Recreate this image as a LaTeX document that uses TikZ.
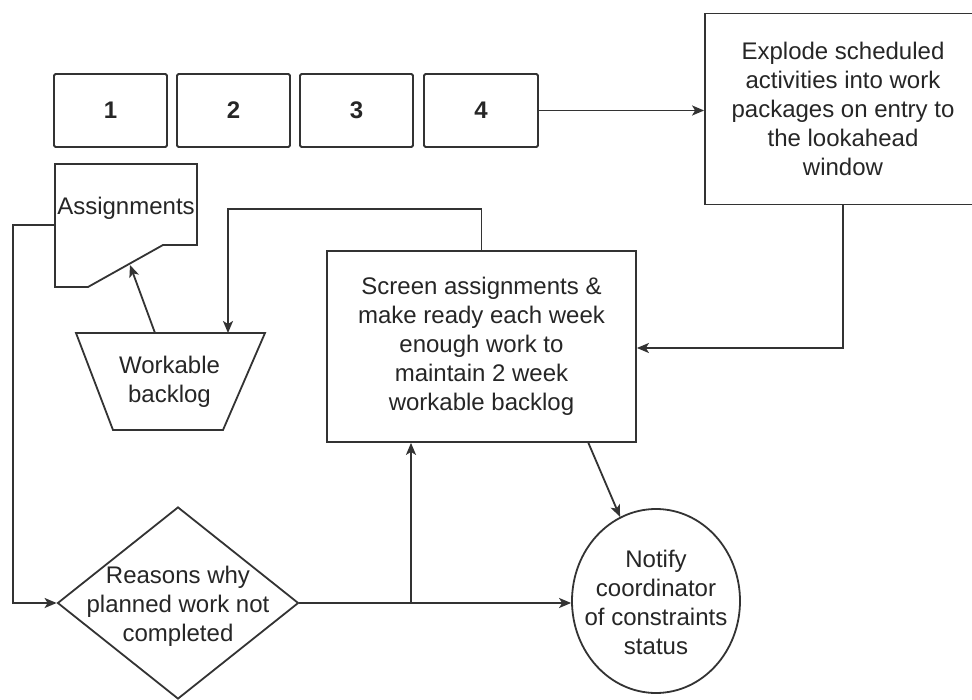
\documentclass[tikz,border=0pt]{standalone}
\usepackage{fontspec}
\setmainfont{Liberation Sans}
\usetikzlibrary{arrows.meta,calc,shapes.geometric}
\begin{document}
\begin{tikzpicture}[x=1pt,y=-1pt,
  every node/.style={font=\fontsize{24}{29}\selectfont, text=black!85, align=center, inner sep=0pt},
  ln/.style={line width=1.8pt, draw=black!80},
  arr/.style={ln, -{Stealth[length=12pt,width=10pt,inset=3pt]}},
  numbox/.style={ln, rectangle, rounded corners=1.5pt, minimum width=113pt, minimum height=73pt, font=\fontsize{24}{29}\selectfont\bfseries},
  procbox/.style={ln, rectangle}
]
\useasboundingbox (0,0) rectangle (972,700);
\fill[white] (0,0) rectangle (972,700);

% numbered boxes
\node[numbox] (b1) at (110.5,110.5) {1};
\node[numbox] (b2) at (233.5,110.5) {2};
\node[numbox] (b3) at (356.5,110.5) {3};
\node[numbox, minimum width=114pt] (b4) at (481,110.5) {4};

% explode box (extends past the right edge of the picture)
\node[procbox, minimum width=276pt, minimum height=191pt] (exp) at (843,109) {Explode scheduled\\activities into work\\packages on entry to\\the lookahead\\window};

% screen box
\node[procbox, minimum width=309pt, minimum height=191pt] (scr) at (481.5,346.5) {Screen assignments \&\\make ready each week\\enough work to\\maintain 2 week\\workable backlog};

% assignments (manual document shape)
\coordinate (a1) at (55,164);
\coordinate (a2) at (197,164);
\coordinate (a3) at (197,245);
\coordinate (a4) at (163,245);
\coordinate (a5) at (88,287);
\coordinate (a6) at (55,287);
\draw[ln, line join=miter] (a1) -- (a2) -- (a3) -- (a4) -- (a5) -- (a6) -- cycle;
\node (asg) at (126,208) {Assignments};

% workable backlog trapezoid
\coordinate (w1) at (76,333);
\coordinate (w2) at (265,333);
\coordinate (w3) at (223,430);
\coordinate (w4) at (113,430);
\draw[ln, line join=miter] (w1) -- (w2) -- (w3) -- (w4) -- cycle;
\node (wb) at (169.5,382) {Workable\\backlog};

% diamond
\node[ln, diamond, minimum width=241pt, minimum height=192pt, aspect=1.255] (dia) at (178,603) {};
\node (diat) at (178,606) {Reasons why\\planned work not\\completed};

% circle
\node[ln, ellipse, minimum width=168pt, minimum height=184pt] (circ) at (656,601) {};
\node (circt) at (656,602) {Notify\\coordinator\\of constraints\\status};

% connectors
\draw[arr] (b4.east) -- (b4.east -| exp.west);

\draw[arr] (exp.south) |- ($(scr.east)+(0,1.5)$);

\coordinate (c1) at (228,209);
\draw[arr] (scr.north) |- (c1) -- (c1 |- w1);

\coordinate (c2) at (155,333);
\draw[arr] (c2) -- (130,265);

\coordinate (c3) at (13,225);
\draw[arr] (a1 |- c3) -- (c3) |- (dia.west);

\coordinate (br) at (411,603);
\draw[arr] (dia.east) -- (dia.east -| circ.west);
\draw[arr] (br) -- (br |- scr.south);

\coordinate (c4) at (588,442);
\draw[arr] (c4) -- (circ);
\end{tikzpicture}
\end{document}
